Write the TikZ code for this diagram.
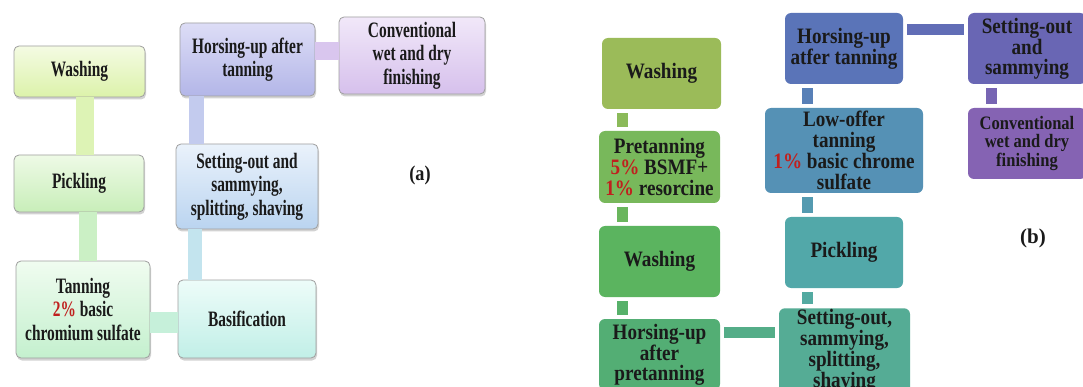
\documentclass[tikz,border=0pt]{standalone}
\usepackage{fontspec}
\setmainfont{Liberation Serif}
\newfontfamily\narrowa[FakeStretch=0.70]{Liberation Serif}
\newfontfamily\narrowb[FakeStretch=0.87]{Liberation Serif}
\usetikzlibrary{positioning, shadows}
\definecolor{inka}{HTML}{1A1A1A}
\definecolor{pctred}{HTML}{C0201E}
% panel (a) colours, top and bottom of each box
\definecolor{washtop}{HTML}{F4FBE3}\definecolor{washbot}{HTML}{DCF2AA}
\definecolor{picktop}{HTML}{EEFAE6}\definecolor{pickbot}{HTML}{C8EEB9}
\definecolor{tantop}{HTML}{F0FCF0}\definecolor{tanbot}{HTML}{C4F0CE}
\definecolor{bastop}{HTML}{EDFCF9}\definecolor{basbot}{HTML}{C1EFE7}
\definecolor{settop}{HTML}{EAF2FB}\definecolor{setbot}{HTML}{BAD4F0}
\definecolor{horsetop}{HTML}{DDDDF6}\definecolor{horsebot}{HTML}{B3B6E8}
\definecolor{convtop}{HTML}{F1E8F9}\definecolor{convbot}{HTML}{D6C0EC}
\definecolor{linkwash}{HTML}{DDF3B5}\definecolor{linkpick}{HTML}{CBF0C5}
\definecolor{linktan}{HTML}{C6F0DA}\definecolor{linkbas}{HTML}{C3E4EE}
\definecolor{linkset}{HTML}{C3CBEE}\definecolor{linkhorse}{HTML}{D9C6EE}
% panel (b) colours
\definecolor{washb}{HTML}{9BBB59}\definecolor{preb}{HTML}{78B85B}
\definecolor{washbb}{HTML}{5BB45F}\definecolor{horseb}{HTML}{53AE74}
\definecolor{setb}{HTML}{55AC95}\definecolor{pickb}{HTML}{52A8A9}
\definecolor{lowb}{HTML}{5591B5}\definecolor{horsebb}{HTML}{5A74B8}
\definecolor{setbb}{HTML}{6966B4}\definecolor{convb}{HTML}{8563B3}
\tikzset{
  stepa/.style={rectangle, rounded corners=5pt, draw=gray!75, line width=0.8pt,
    drop shadow={shadow xshift=1pt, shadow yshift=-2.5pt, opacity=0.35},
    align=center, text=inka, inner sep=2pt,
    font=\narrowa\bfseries\fontsize{22}{23.5}\selectfont}, % boxes of (a)
  linka/.style={line width=18pt},
  stepb/.style={rectangle, rounded corners=6pt, draw=none, align=center,
    text=inka, inner sep=1pt,
    font=\narrowb\bfseries\fontsize{22}{21}\selectfont}, % boxes of (b)
  linkb/.style={line width=11pt, shorten <=4pt, shorten >=4pt},
}
\begin{document}
\begin{tikzpicture}[x=1pt, y=1pt]
  \useasboundingbox (0,0) rectangle (1083,-387);
  \clip (0,0) rectangle (1083,-387);
  \fill[white] (0,0) rectangle (1083,-387);

  % (a)
  \node[stepa, top color=washtop, bottom color=washbot, minimum width=131pt, minimum height=51pt] (washA) at (79.5,-71.5) {Washing};
  \node[stepa, top color=picktop, bottom color=pickbot, minimum width=130pt, minimum height=57pt, below of=washA, node distance=112pt, xshift=-0.5pt] (pickA) {Pickling};
  \node[stepa, top color=tantop, bottom color=tanbot, minimum width=134pt, minimum height=97pt, below of=pickA, node distance=126pt, xshift=4pt] (tanA) {Tanning\\\textcolor{pctred}{2\%} basic\\chromium sulfate};
  \node[stepa, top color=bastop, bottom color=basbot, minimum width=138pt, minimum height=78pt, right of=tanA, node distance=164pt, yshift=-9.5pt] (basA) {Basification};
  \node[stepa, top color=settop, bottom color=setbot, minimum width=142pt, minimum height=85pt, above of=basA, node distance=132.5pt] (setA) {Setting-out and\\sammying,\\splitting, shaving};
  \node[stepa, top color=horsetop, bottom color=horsebot, minimum width=135pt, minimum height=73pt, above of=setA, node distance=127pt, xshift=0.5pt] (horseA) {Horsing-up after\\tanning};
  \node[stepa, top color=convtop, bottom color=convbot, minimum width=146pt, minimum height=77pt, right of=horseA, node distance=164.5pt, yshift=4pt] (convA) {Conventional\\wet and dry\\finishing};
  \node[font=\narrowb\bfseries\fontsize{21}{21}\selectfont, text=inka] (labelA) at (420,-175) {(a)};

  \draw[linka, draw=linkwash] ([xshift=5.5pt]washA.south) -- ([xshift=5.5pt]washA.south |- pickA.north);
  \draw[linka, draw=linkpick] ([xshift=9pt]pickA.south) -- ([xshift=9pt]pickA.south |- tanA.north);
  \draw[linka, draw=linktan, line width=21pt] ([yshift=-12.5pt]tanA.east) -- ([yshift=-12.5pt]tanA.east -| basA.west);
  \draw[linka, draw=linkbas, line width=14pt] ([xshift=-52pt]basA.north) -- ([xshift=-52pt]basA.north |- setA.south);
  \draw[linka, draw=linkset, line width=15pt] ([xshift=-51pt]setA.north) -- ([xshift=-51pt]setA.north |- horseA.south);
  \draw[linka, draw=linkhorse] ([yshift=8.5pt]horseA.east) -- ([yshift=8.5pt]horseA.east -| convA.west);

  % (b)
  \node[stepb, fill=washb, minimum width=119pt, minimum height=71pt] (washB) at (661.5,-73.5) {Washing};
  \node[stepb, fill=preb, minimum width=121pt, minimum height=72pt, below of=washB, node distance=93.5pt, xshift=-2pt] (preB) {Pretanning\\\textcolor{pctred}{5\%} BSMF+\\\textcolor{pctred}{1\%} resorcine};
  \node[stepb, fill=washbb, minimum width=121pt, minimum height=71pt, below of=preB, node distance=94.5pt] (washBB) {Washing};
  \node[stepb, fill=horseb, minimum width=121pt, minimum height=71pt, below of=washBB, node distance=93pt, font=\narrowb\bfseries\fontsize{22}{20}\selectfont] (horseB) {Horsing-up\\after\\pretanning};
  \node[stepb, fill=setb, minimum width=131pt, minimum height=80pt, right of=horseB, node distance=185pt, yshift=3.5pt, font=\narrowb\bfseries\fontsize{22}{19.5}\selectfont] (setB) {Setting-out,\\sammying,\\splitting,\\shaving};
  \node[stepb, fill=pickb, minimum width=118pt, minimum height=71pt, above of=setB, node distance=98.5pt, xshift=-0.5pt] (pickB) {Pickling};
  \node[stepb, fill=lowb, minimum width=158pt, minimum height=85pt, above of=pickB, node distance=102pt] (lowB) {Low-offer\\tanning\\\textcolor{pctred}{1\%} basic chrome\\sulfate};
  \node[stepb, fill=horsebb, minimum width=118pt, minimum height=71pt, above of=lowB, node distance=102pt] (horseBB) {Horsing-up\\atfer tanning};
  \node[stepb, fill=setbb, minimum width=118pt, minimum height=71pt, right of=horseBB, node distance=183pt, font=\narrowb\bfseries\fontsize{22}{20}\selectfont] (setBB) {Setting-out\\and\\sammying};
  \node[stepb, fill=convb, minimum width=118pt, minimum height=71pt, below of=setBB, node distance=95pt, font=\narrowb\bfseries\fontsize{19}{18.5}\selectfont] (convB) {Conventional\\wet and dry\\finishing};
  \node[font=\bfseries\fontsize{21}{21}\selectfont, text=inka] (labelB) at (1033,-238) {(b)};

  \draw[linkb, draw=washb!55!preb] ([xshift=-39pt]washB.south) -- ([xshift=-39pt]washB.south |- preB.north);
  \draw[linkb, draw=preb!50!washbb] ([xshift=-37pt]preB.south) -- ([xshift=-37pt]preB.south |- washBB.north);
  \draw[linkb, draw=washbb!50!horseb] ([xshift=-37pt]washBB.south) -- ([xshift=-37pt]washBB.south |- horseB.north);
  \draw[linkb, draw=horseb!40!setb] ([yshift=22pt]horseB.east) -- ([yshift=22pt]horseB.east -| setB.west);
  \draw[linkb, draw=setb!40!pickb] ([xshift=-37.5pt]setB.north) -- ([xshift=-37.5pt]setB.north |- pickB.south);
  \draw[linkb, draw=pickb!40!lowb] ([xshift=-37pt]pickB.north) -- ([xshift=-37pt]pickB.north |- lowB.south);
  \draw[linkb, draw=lowb!40!horsebb] ([xshift=-37pt]lowB.north) -- ([xshift=-37pt]lowB.north |- horseBB.south);
  \draw[linkb, draw=horsebb!50!setbb] ([yshift=19pt]horseBB.east) -- ([yshift=19pt]horseBB.east -| setBB.west);
  \draw[linkb, draw=setbb!50!convb] ([xshift=-36pt]setBB.south) -- ([xshift=-36pt]setBB.south |- convB.north);
\end{tikzpicture}
\end{document}
